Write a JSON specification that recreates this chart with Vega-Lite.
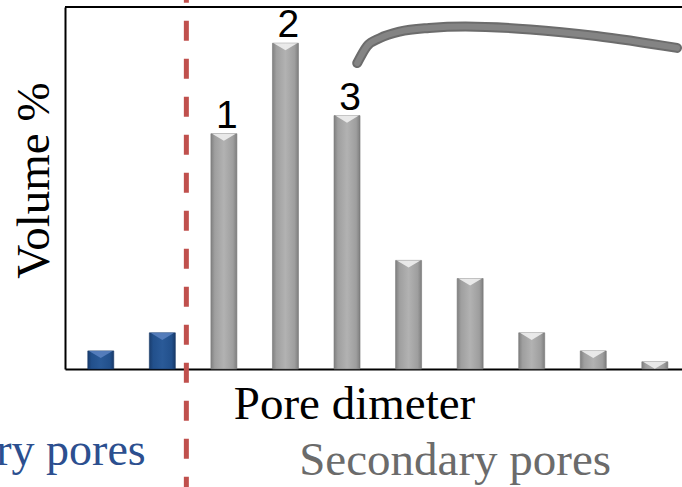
{
  "$schema": "https://vega.github.io/schema/vega-lite/v6.json",
  "width": 617,
  "height": 362,
  "autosize": {"type": "none"},
  "padding": {"left": 65, "top": 7, "right": 0, "bottom": 118},
  "background": "white",
  "config": {"view": {"stroke": null}},
  "datasets": {
    "bars": [
      {"pos": 1, "volume": 5, "group": "primary", "label": ""},
      {"pos": 2, "volume": 10, "group": "primary", "label": ""},
      {"pos": 3, "volume": 65, "group": "secondary", "label": "1"},
      {"pos": 4, "volume": 90, "group": "secondary", "label": "2"},
      {"pos": 5, "volume": 70, "group": "secondary", "label": "3"},
      {"pos": 6, "volume": 30, "group": "secondary", "label": ""},
      {"pos": 7, "volume": 25, "group": "secondary", "label": ""},
      {"pos": 8, "volume": 10, "group": "secondary", "label": ""},
      {"pos": 9, "volume": 5, "group": "secondary", "label": ""},
      {"pos": 10, "volume": 2, "group": "secondary", "label": ""}
    ],
    "curve": [
      {"pos": 5.166, "volume": 84.5},
      {"pos": 5.326, "volume": 89.2},
      {"pos": 5.534, "volume": 91.4},
      {"pos": 5.853, "volume": 93.2},
      {"pos": 6.333, "volume": 94.2},
      {"pos": 6.924, "volume": 94.6},
      {"pos": 7.978, "volume": 93.8},
      {"pos": 9.049, "volume": 92.0},
      {"pos": 10.36, "volume": 88.7}
    ],
    "divider": [{"pos": 2.39, "volume": 102, "volume2": -33}],
    "top": [{"volume": 100}],
    "notes": [
      {"pos": 1.73, "volume": -26.5, "text": "Primary pores", "group": "primary"},
      {"pos": 4.223, "volume": -29.3, "text": "Secondary pores", "group": "secondary"}
    ]
  },
  "layer": [
    {
      "data": {"name": "bars"},
      "transform": [{"filter": "datum.group === 'secondary'"}],
      "mark": {
        "type": "bar",
        "width": 26,
        "stroke": "#777777",
        "strokeWidth": 0.6,
        "color": {
          "gradient": "linear", "x1": 0, "y1": 0, "x2": 1, "y2": 0,
          "stops": [
            {"offset": 0, "color": "#808080"},
            {"offset": 0.15, "color": "#9f9f9f"},
            {"offset": 0.5, "color": "#b2b2b2"},
            {"offset": 0.85, "color": "#9e9e9e"},
            {"offset": 1, "color": "#7e7e7e"}
          ]
        }
      },
      "encoding": {
        "x": {
          "field": "pos", "type": "quantitative",
          "scale": {"domain": [0.5, 10.36], "nice": false, "zero": false},
          "axis": {
            "title": "Pore dimeter", "labels": false, "ticks": false, "grid": false,
            "domainColor": "black", "domainWidth": 2,
            "titleFont": "Liberation Serif", "titleFontSize": 47, "titleFontWeight": "normal",
            "titleColor": "black", "titleX": 289, "titleY": 49,
            "titleAlign": "center", "titleBaseline": "alphabetic"
          }
        },
        "y": {
          "field": "volume", "type": "quantitative",
          "scale": {"domain": [0, 100], "nice": false},
          "axis": {
            "title": "Volume %", "labels": false, "ticks": false, "grid": false,
            "domainColor": "black", "domainWidth": 2,
            "titleFont": "Liberation Serif", "titleFontSize": 47, "titleFontWeight": "normal",
            "titleColor": "black", "titleAngle": -90, "titleX": -17, "titleY": 173,
            "titleAlign": "center", "titleBaseline": "alphabetic"
          }
        }
      }
    },
    {
      "data": {"name": "bars"},
      "transform": [{"filter": "datum.group === 'primary'"}],
      "mark": {
        "type": "bar",
        "width": 26,
        "stroke": "#173864",
        "strokeWidth": 0.6,
        "color": {
          "gradient": "linear", "x1": 0, "y1": 0, "x2": 1, "y2": 0,
          "stops": [
            {"offset": 0, "color": "#1a3d6e"},
            {"offset": 0.15, "color": "#22508c"},
            {"offset": 0.5, "color": "#2a5a98"},
            {"offset": 0.85, "color": "#22508c"},
            {"offset": 1, "color": "#183a69"}
          ]
        }
      },
      "encoding": {
        "x": {"field": "pos", "type": "quantitative"},
        "y": {"field": "volume", "type": "quantitative"}
      }
    },
    {
      "data": {"name": "bars"},
      "transform": [{"filter": "datum.group === 'secondary'"}],
      "mark": {
        "type": "point", "filled": true, "shape": "M-1,0L1,0L0,0.6Z",
        "size": 560, "color": "#f0f0f0", "opacity": 0.9, "strokeWidth": 0
      },
      "encoding": {
        "x": {"field": "pos", "type": "quantitative"},
        "y": {"field": "volume", "type": "quantitative"}
      }
    },
    {
      "data": {"name": "bars"},
      "transform": [{"filter": "datum.group === 'primary'"}],
      "mark": {
        "type": "point", "filled": true, "shape": "M-1,0L1,0L0,0.6Z",
        "size": 560, "color": "#5f86c4", "opacity": 0.8, "strokeWidth": 0
      },
      "encoding": {
        "x": {"field": "pos", "type": "quantitative"},
        "y": {"field": "volume", "type": "quantitative"}
      }
    },
    {
      "data": {"name": "bars"},
      "transform": [{"filter": "datum.label !== ''"}],
      "mark": {
        "type": "text", "font": "Liberation Sans", "fontSize": 39,
        "baseline": "alphabetic", "align": "center", "dy": -6, "dx": 3, "color": "black"
      },
      "encoding": {
        "x": {"field": "pos", "type": "quantitative"},
        "y": {"field": "volume", "type": "quantitative"},
        "text": {"field": "label"}
      }
    },
    {
      "data": {"name": "top"},
      "mark": {"type": "rule", "color": "black", "strokeWidth": 2},
      "encoding": {
        "y": {"field": "volume", "type": "quantitative"}
      }
    },
    {
      "data": {"name": "curve"},
      "mark": {
        "type": "line", "interpolate": "monotone", "strokeWidth": 10,
        "color": "#6c6c6c", "strokeCap": "round"
      },
      "encoding": {
        "x": {"field": "pos", "type": "quantitative"},
        "y": {"field": "volume", "type": "quantitative"}
      }
    },
    {
      "data": {"name": "curve"},
      "mark": {
        "type": "line", "interpolate": "monotone", "strokeWidth": 6,
        "color": "#848484", "strokeCap": "round"
      },
      "encoding": {
        "x": {"field": "pos", "type": "quantitative"},
        "y": {"field": "volume", "type": "quantitative"}
      }
    },
    {
      "data": {"name": "divider"},
      "mark": {
        "type": "rule", "color": "#c0504d", "strokeWidth": 5,
        "strokeDash": [20, 18], "strokeDashOffset": 17
      },
      "encoding": {
        "x": {"field": "pos", "type": "quantitative"},
        "y": {"field": "volume", "type": "quantitative"},
        "y2": {"field": "volume2"}
      }
    },
    {
      "data": {"name": "notes"},
      "transform": [{"filter": "datum.group === 'primary'"}],
      "mark": {
        "type": "text", "font": "Liberation Serif", "fontSize": 46,
        "align": "right", "baseline": "alphabetic", "color": "#2c4f8f"
      },
      "encoding": {
        "x": {"field": "pos", "type": "quantitative"},
        "y": {"field": "volume", "type": "quantitative"},
        "text": {"field": "text"}
      }
    },
    {
      "data": {"name": "notes"},
      "transform": [{"filter": "datum.group === 'secondary'"}],
      "mark": {
        "type": "text", "font": "Liberation Serif", "fontSize": 47,
        "align": "left", "baseline": "alphabetic", "color": "#6b6b6b"
      },
      "encoding": {
        "x": {"field": "pos", "type": "quantitative"},
        "y": {"field": "volume", "type": "quantitative"},
        "text": {"field": "text"}
      }
    }
  ]
}
